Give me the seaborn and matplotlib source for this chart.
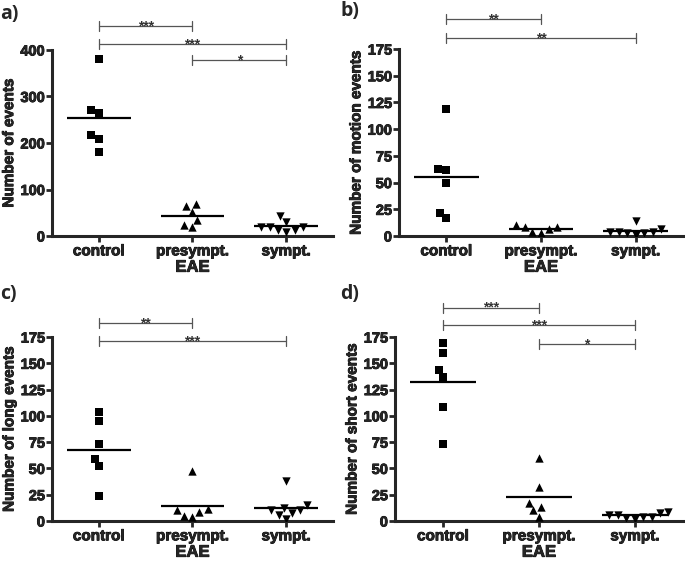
import numpy as np
import seaborn as sns
import matplotlib.pyplot as plt
import matplotlib.patheffects as pe

# group names and marker per group
groups = ["control", "presympt.", "sympt."]
markers = ["s", "^", "v"]

# a) all events
control_a = [380, 271, 264, 217, 209, 181]
presympt_a = [65, 68, 52, 34, 19, 24]
sympt_a = [20, 13, 30, 43, 8, 20, 13, 20]

# b) motion events
control_b = [119, 63, 62, 50, 22, 17]
presympt_b = [8, 7, 10, 8, 3, 4]
sympt_b = [4, 3, 7, 14, 1, 4, 3, 4]

# c) long events
control_c = [104, 95, 73, 59, 52, 24]
presympt_c = [48, 11, 9, 4, 5, 10]
sympt_c = [38, 10, 8, 15, 12, 6, 10, 2]

# d) short events
control_d = [169, 160, 144, 137, 108, 73]
presympt_d = [60, 32, 13, 17, 10, 4]
sympt_d = [6, 4, 8, 2, 6, 3, 9, 4]

# significance brackets: (from group, to group, height, label)
brackets_a = [(0, 1, 452, "***"), (0, 2, 413, "***"), (1, 2, 378, "*")]
brackets_b = [(0, 1, 203, "**"), (0, 2, 185, "**")]
brackets_c = [(0, 1, 188, "**"), (0, 2, 171, "***")]
brackets_d = [(0, 1, 203, "***"), (0, 2, 186, "***"), (1, 2, 168, "*")]

sns.set_style("ticks")
plt.rcParams['font.family'] = ['Liberation Sans', 'DejaVu Sans']
plt.rcParams['font.weight'] = 'bold'
plt.rcParams['axes.labelweight'] = 'bold'

fig = plt.figure(figsize=(6.85, 5.63), dpi=100)
heavy = [pe.withStroke(linewidth=0.6, foreground="black")]


def draw_panel(rect, data, ymax, step, ylabel, brackets):
    ax = fig.add_axes(rect)
    for i, (m, vals) in enumerate(zip(markers, data)):
        sns.swarmplot(x=[groups[i]] * len(vals), y=vals, order=groups,
                      marker=m, color="black", size=6, ax=ax, zorder=4)
        ax.hlines(np.mean(vals), i - 0.34, i + 0.34, color="black", lw=1.6, zorder=3)

    ax.set_xlim(-0.5, 2.5)
    ax.set_ylim(0, ymax)
    ax.set_yticks(np.arange(0, ymax + 1, step))
    ax.set_xticks(range(len(groups)))
    ax.set_xticklabels(groups, fontsize=11, fontweight="bold")
    ax.tick_params(axis="y", labelsize=10.5, width=2, length=4, pad=1)
    ax.tick_params(axis="x", width=2, length=4, pad=2)
    for lab in ax.get_yticklabels() + ax.get_xticklabels():
        lab.set_fontweight("bold")
        lab.set_path_effects(heavy)
    ax.spines[["top", "right"]].set_visible(False)
    ax.spines[["left", "bottom"]].set_linewidth(2.2)
    ax.set_ylabel(ylabel, fontsize=11, fontweight="bold", labelpad=3, path_effects=heavy)
    ax.set_xlabel("EAE", fontsize=12, fontweight="bold", labelpad=1, path_effects=heavy)

    cap = 0.027 * ymax
    for i, j, h, lab in brackets:
        ax.plot([i, j], [h, h], color="#555555", lw=0.9, clip_on=False)
        ax.plot([i, i], [h - cap, h + cap], color="#555555", lw=0.9, clip_on=False)
        ax.plot([j, j], [h - cap, h + cap], color="#555555", lw=0.9, clip_on=False)
        ax.annotate(lab, ((i + j) / 2, h), xytext=(0, -3), textcoords="offset points",
                    ha="center", va="baseline", fontsize=10, color="#333333",
                    annotation_clip=False)
    return ax


draw_panel([0.0759, 0.5808, 0.4102, 0.3304], [control_a, presympt_a, sympt_a],
           400, 100, "Number of events", brackets_a)
draw_panel([0.5825, 0.5808, 0.4146, 0.3321], [control_b, presympt_b, sympt_b],
           175, 25, "Number of motion events", brackets_b)
draw_panel([0.0759, 0.0746, 0.4102, 0.3268], [control_c, presympt_c, sympt_c],
           175, 25, "Number of long events", brackets_c)
draw_panel([0.5766, 0.0746, 0.4204, 0.3268], [control_d, presympt_d, sympt_d],
           175, 25, "Number of short events", brackets_d)

letter_font = ["Open Sans", "DejaVu Sans"]
fig.text(0 / 685, 1 - 19 / 563, "a)", fontsize=14, fontweight="bold", family=letter_font)
fig.text(340 / 685, 1 - 16 / 563, "b)", fontsize=14, fontweight="bold", family=letter_font)
fig.text(0 / 685, 1 - 299 / 563, "c)", fontsize=14, fontweight="bold", family=letter_font)
fig.text(340 / 685, 1 - 299 / 563, "d)", fontsize=14, fontweight="bold", family=letter_font)

fig.savefig("out.png", dpi=100)
